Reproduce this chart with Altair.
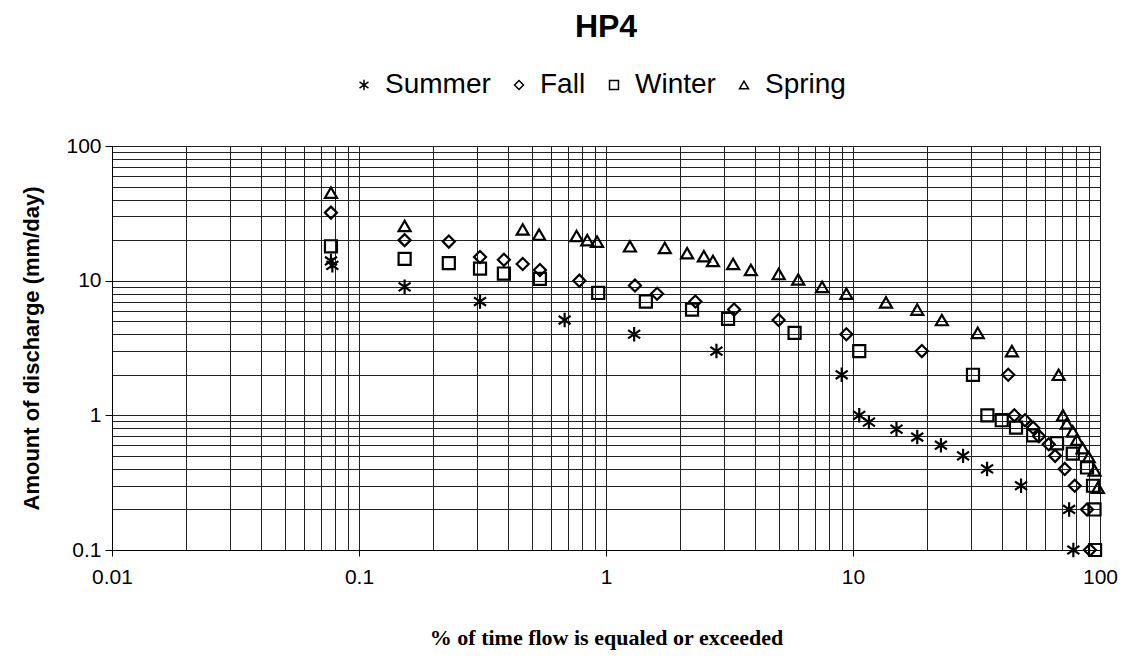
import altair as alt
import pandas as pd

SEASONS = ["Summer", "Fall", "Winter", "Spring"]

SUMMER_X = [0.077, 0.078, 0.153, 0.309, 0.68, 1.3, 2.8, 9.0, 10.6, 11.6, 15, 18.2, 22.7, 27.9, 34.9, 47.9, 75, 78]
SUMMER_Y = [14, 13, 9.0, 7.0, 5.1, 4.0, 3.0, 2.0, 1.0, 0.89, 0.79, 0.69, 0.60, 0.50, 0.40, 0.30, 0.20, 0.10]

FALL_X = [0.077, 0.153, 0.231, 0.309, 0.386, 0.46, 0.54, 0.78, 1.31, 1.61, 2.3, 3.3, 5.0, 9.4, 19, 42.5, 45, 49.7, 53.6, 56.6, 62, 65.8, 72, 79, 88.6, 91]
FALL_Y = [32, 20, 19.5, 15, 14.3, 13.3, 12, 10, 9.2, 8.0, 7.0, 6.1, 5.1, 4.0, 3.0, 2.0, 1.0, 0.92, 0.81, 0.70, 0.61, 0.50, 0.40, 0.30, 0.20, 0.10]

WINTER_X = [0.077, 0.153, 0.231, 0.309, 0.386, 0.54, 0.93, 1.45, 2.23, 3.12, 5.8, 10.6, 30.6, 35, 40, 45.7, 53.6, 67, 77.6, 88.6, 93.7, 95, 95.5]
WINTER_Y = [18, 14.5, 13.5, 12.3, 11.3, 10.3, 8.1, 7.0, 6.1, 5.2, 4.1, 3.0, 2.0, 1.0, 0.92, 0.81, 0.71, 0.62, 0.52, 0.41, 0.30, 0.20, 0.10]

SPRING_X = [0.077, 0.153, 0.46, 0.536, 0.76, 0.84, 0.92, 1.25, 1.73, 2.13, 2.49, 2.71, 3.27, 3.86, 5.0, 6.0, 7.5, 9.4, 13.6, 18.2, 22.9, 32, 44, 68, 70.8, 73.4, 77.6, 80.7, 85, 90, 95, 98]
SPRING_Y = [45, 25.5, 24, 22, 21.5, 20, 19.5, 18, 17.5, 16, 15.2, 14, 13.3, 12, 11.2, 10.2, 9.0, 8.0, 6.9, 6.1, 5.1, 4.1, 3.0, 2.0, 1.0, 0.87, 0.76, 0.66, 0.57, 0.49, 0.39, 0.29]

X_DECADES = [0.01, 0.1, 1, 10, 100]
Y_DECADES = [0.1, 1, 10, 100]
X_GRID = sorted({round(m * d, 10) for d in [0.01, 0.1, 1, 10] for m in range(1, 10)} | {100})
Y_GRID = sorted({round(m * d, 10) for d in [0.1, 1, 10] for m in range(1, 10)} | {100})

rows = []
for name, xs, ys in [("Summer", SUMMER_X, SUMMER_Y), ("Fall", FALL_X, FALL_Y),
                     ("Winter", WINTER_X, WINTER_Y), ("Spring", SPRING_X, SPRING_Y)]:
    for x, y in zip(xs, ys):
        rows.append({"season": name, "pct": x, "q": y})
df = pd.DataFrame(rows)

ASTERISK = "M0,-1.2L0,1.2M-1,-0.7L1,0.7M-1,0.7L1,-0.7"

x_test = "indexof([0.01,0.1,1,10,100], datum.value) >= 0"
y_test = "indexof([0.1,1,10,100], datum.value) >= 0"

chart = alt.Chart(df).mark_point(filled=False, strokeWidth=2.2, color="black", opacity=1, size=145).encode(
    x=alt.X("pct:Q",
            scale=alt.Scale(type="log", domain=[0.01, 100]),
            axis=alt.Axis(values=X_GRID, title="% of time flow is equaled or exceeded",
                          labelExpr=f"{x_test} ? format(datum.value, '~g') : ''",
                          labelFont="Liberation Sans", labelFontSize=21, labelColor="black",
                          labelPadding=10, labelFlush=False,
                          titleFont="Liberation Serif", titleFontSize=22, titleFontWeight="bold",
                          titleColor="black", titlePadding=40,
                          grid=True, gridColor="#222222", gridWidth=1, gridOpacity=1,
                          domain=True, domainColor="black",
                          ticks=True, tickSize=6, tickColor="black",
                          tickOpacity={"condition": {"test": x_test, "value": 1}, "value": 0})),
    y=alt.Y("q:Q",
            scale=alt.Scale(type="log", domain=[0.1, 100]),
            axis=alt.Axis(values=Y_GRID, title="Amount of discharge (mm/day)",
                          labelExpr=f"{y_test} ? format(datum.value, '~g') : ''",
                          labelFont="Liberation Sans", labelFontSize=21, labelColor="black",
                          labelPadding=4,
                          titleFont="Liberation Sans", titleFontSize=22, titleFontWeight="bold",
                          titleColor="black", titlePadding=22,
                          grid=True, gridColor="#222222", gridWidth=1, gridOpacity=1,
                          domain=True, domainColor="black",
                          ticks=True, tickSize=7, tickColor="black",
                          tickOpacity={"condition": {"test": y_test, "value": 1}, "value": 0})),
    shape=alt.Shape("season:N",
                    scale=alt.Scale(domain=SEASONS, range=[ASTERISK, "diamond", "square", "triangle-up"]),
                    legend=alt.Legend(title=None, orient="none", direction="horizontal",
                                      legendX=238, legendY=-75,
                                      labelFont="Liberation Sans", labelFontSize=28, labelColor="black",
                                      symbolSize=80, symbolStrokeWidth=1.5, symbolStrokeColor="black",
                                      symbolFillColor="transparent",
                                      labelOffset=7, columnPadding=14)),
).properties(
    width=988, height=404,
    title=alt.Title("HP4", font="Liberation Sans", fontSize=32, fontWeight="bold",
                    color="black", anchor="middle", offset=27),
    autosize=alt.AutoSizeParams(type="none"),
    padding={"left": 104, "top": 138, "right": 24, "bottom": 100},
).configure_view(stroke="black", strokeWidth=1)

chart.save("out.html", embed_options={"renderer": "svg", "actions": False})
